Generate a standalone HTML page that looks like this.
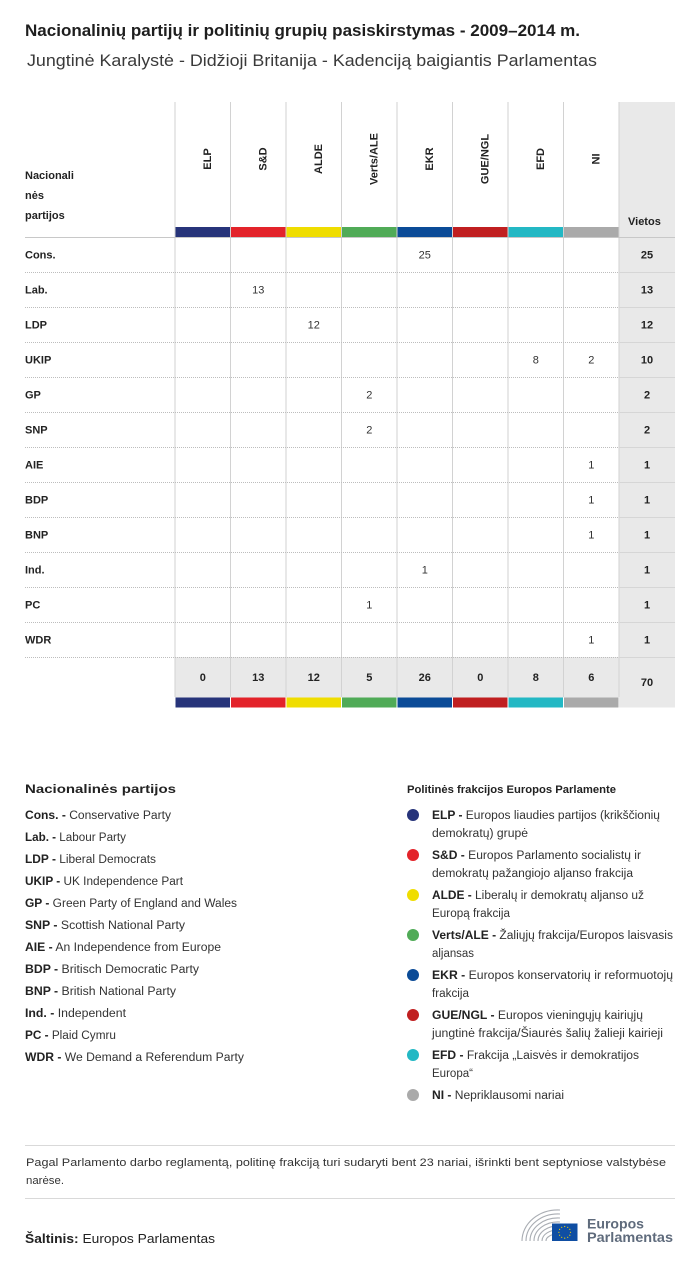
<!DOCTYPE html>
<html><head><meta charset="utf-8"><style>
html,body{margin:0;padding:0;background:#fff;}
svg{display:block;}
text{font-family:"Liberation Sans","DejaVu Sans",sans-serif;}
.b{font-weight:bold;}
.lbl{font-size:11px;font-weight:bold;fill:#222;}
.num{font-size:11px;fill:#333;text-anchor:middle;}
.tot{font-size:11px;font-weight:bold;fill:#222;text-anchor:middle;}
.hd{font-size:11px;font-weight:bold;fill:#222;text-anchor:middle;}
.lg{font-size:11.5px;fill:#333;}
.lg tspan.b{fill:#222;}
</style></head><body>
<svg width="700" height="1263" viewBox="0 0 700 1263" xmlns="http://www.w3.org/2000/svg">
<rect width="700" height="1263" fill="#fff"/>
<text x="25" y="36" font-size="17" font-weight="bold" fill="#1e1e1e" textLength="555" lengthAdjust="spacingAndGlyphs">Nacionalinių partijų ir politinių grupių pasiskirstymas - 2009–2014 m.</text>
<text x="27" y="66" font-size="17" fill="#3a3a3a" textLength="570" lengthAdjust="spacingAndGlyphs">Jungtinė Karalystė - Didžioji Britanija - Kadenciją baigiantis Parlamentas</text>

<!-- gray backgrounds -->
<rect x="619" y="102" width="56" height="605.5" fill="#e9e9e9"/>
<rect x="175" y="657" width="444" height="40.5" fill="#e9e9e9"/>

<!-- color bars -->
<g>
<rect x="175.5" y="227" width="54.5" height="10" fill="#27347a"/>
<rect x="231" y="227" width="54.5" height="10" fill="#e3232a"/>
<rect x="286.5" y="227" width="54.5" height="10" fill="#efdd00"/>
<rect x="342" y="227" width="54.5" height="10" fill="#50ab57"/>
<rect x="397.5" y="227" width="54.5" height="10" fill="#0b4b97"/>
<rect x="453" y="227" width="54.5" height="10" fill="#c01f20"/>
<rect x="508.5" y="227" width="54.5" height="10" fill="#23b8c4"/>
<rect x="564" y="227" width="54.5" height="10" fill="#aaaaaa"/>
<rect x="175.5" y="697.5" width="54.5" height="10" fill="#27347a"/>
<rect x="231" y="697.5" width="54.5" height="10" fill="#e3232a"/>
<rect x="286.5" y="697.5" width="54.5" height="10" fill="#efdd00"/>
<rect x="342" y="697.5" width="54.5" height="10" fill="#50ab57"/>
<rect x="397.5" y="697.5" width="54.5" height="10" fill="#0b4b97"/>
<rect x="453" y="697.5" width="54.5" height="10" fill="#c01f20"/>
<rect x="508.5" y="697.5" width="54.5" height="10" fill="#23b8c4"/>
<rect x="564" y="697.5" width="54.5" height="10" fill="#aaaaaa"/>
</g>

<!-- vertical column lines -->
<g stroke="#d2d2d2" stroke-width="1">
<line x1="175" y1="102" x2="175" y2="697"/>
<line x1="230.5" y1="102" x2="230.5" y2="697"/>
<line x1="286" y1="102" x2="286" y2="697"/>
<line x1="341.5" y1="102" x2="341.5" y2="697"/>
<line x1="397" y1="102" x2="397" y2="697"/>
<line x1="452.5" y1="102" x2="452.5" y2="697"/>
<line x1="508" y1="102" x2="508" y2="697"/>
<line x1="563.5" y1="102" x2="563.5" y2="697"/>
<line x1="619" y1="102" x2="619" y2="697"/>
</g>

<!-- horizontal lines -->
<line x1="25" y1="237.5" x2="675" y2="237.5" stroke="#c8c8c8" stroke-width="1"/>
<g stroke="#bdbdbd" stroke-width="1" stroke-dasharray="1,1">
<line x1="25" y1="272.5" x2="619" y2="272.5"/>
<line x1="25" y1="307.5" x2="619" y2="307.5"/>
<line x1="25" y1="342.5" x2="619" y2="342.5"/>
<line x1="25" y1="377.5" x2="619" y2="377.5"/>
<line x1="25" y1="412.5" x2="619" y2="412.5"/>
<line x1="25" y1="447.5" x2="619" y2="447.5"/>
<line x1="25" y1="482.5" x2="619" y2="482.5"/>
<line x1="25" y1="517.5" x2="619" y2="517.5"/>
<line x1="25" y1="552.5" x2="619" y2="552.5"/>
<line x1="25" y1="587.5" x2="619" y2="587.5"/>
<line x1="25" y1="622.5" x2="619" y2="622.5"/>
<line x1="25" y1="657.5" x2="619" y2="657.5"/>
</g>
<g stroke="#d6d6d6" stroke-width="1">
<line x1="619" y1="272.5" x2="675" y2="272.5"/>
<line x1="619" y1="307.5" x2="675" y2="307.5"/>
<line x1="619" y1="342.5" x2="675" y2="342.5"/>
<line x1="619" y1="377.5" x2="675" y2="377.5"/>
<line x1="619" y1="412.5" x2="675" y2="412.5"/>
<line x1="619" y1="447.5" x2="675" y2="447.5"/>
<line x1="619" y1="482.5" x2="675" y2="482.5"/>
<line x1="619" y1="517.5" x2="675" y2="517.5"/>
<line x1="619" y1="552.5" x2="675" y2="552.5"/>
<line x1="619" y1="587.5" x2="675" y2="587.5"/>
<line x1="619" y1="622.5" x2="675" y2="622.5"/>
<line x1="619" y1="657.5" x2="675" y2="657.5"/>
</g>

<!-- header labels -->
<text class="lbl" x="25" y="179">Nacionali</text>
<text class="lbl" x="25" y="199">nės</text>
<text class="lbl" x="25" y="219">partijos</text>
<text class="lbl" x="628" y="225">Vietos</text>

<g class="hd">
<text class="hd" transform="translate(210.75,159) rotate(-90)">ELP</text>
<text class="hd" transform="translate(266.25,159) rotate(-90)">S&amp;D</text>
<text class="hd" transform="translate(321.75,159) rotate(-90)">ALDE</text>
<text class="hd" transform="translate(377.25,159) rotate(-90)">Verts/ALE</text>
<text class="hd" transform="translate(432.75,159) rotate(-90)">EKR</text>
<text class="hd" transform="translate(488.25,159) rotate(-90)">GUE/NGL</text>
<text class="hd" transform="translate(543.75,159) rotate(-90)">EFD</text>
<text class="hd" transform="translate(599.25,159) rotate(-90)">NI</text>
</g>

<!-- row labels -->
<text class="lbl" x="25" y="258.5">Cons.</text>
<text class="lbl" x="25" y="293.5">Lab.</text>
<text class="lbl" x="25" y="328.5">LDP</text>
<text class="lbl" x="25" y="363.5">UKIP</text>
<text class="lbl" x="25" y="398.5">GP</text>
<text class="lbl" x="25" y="433.5">SNP</text>
<text class="lbl" x="25" y="468.5">AIE</text>
<text class="lbl" x="25" y="503.5">BDP</text>
<text class="lbl" x="25" y="538.5">BNP</text>
<text class="lbl" x="25" y="573.5">Ind.</text>
<text class="lbl" x="25" y="608.5">PC</text>
<text class="lbl" x="25" y="643.5">WDR</text>

<!-- cell values -->
<text class="num" x="424.75" y="258.5">25</text>
<text class="num" x="258.25" y="293.5">13</text>
<text class="num" x="313.75" y="328.5">12</text>
<text class="num" x="535.75" y="363.5">8</text>
<text class="num" x="591.25" y="363.5">2</text>
<text class="num" x="369.25" y="398.5">2</text>
<text class="num" x="369.25" y="433.5">2</text>
<text class="num" x="591.25" y="468.5">1</text>
<text class="num" x="591.25" y="503.5">1</text>
<text class="num" x="591.25" y="538.5">1</text>
<text class="num" x="424.75" y="573.5">1</text>
<text class="num" x="369.25" y="608.5">1</text>
<text class="num" x="591.25" y="643.5">1</text>

<!-- row totals -->
<text class="tot" x="647" y="258.5">25</text>
<text class="tot" x="647" y="293.5">13</text>
<text class="tot" x="647" y="328.5">12</text>
<text class="tot" x="647" y="363.5">10</text>
<text class="tot" x="647" y="398.5">2</text>
<text class="tot" x="647" y="433.5">2</text>
<text class="tot" x="647" y="468.5">1</text>
<text class="tot" x="647" y="503.5">1</text>
<text class="tot" x="647" y="538.5">1</text>
<text class="tot" x="647" y="573.5">1</text>
<text class="tot" x="647" y="608.5">1</text>
<text class="tot" x="647" y="643.5">1</text>

<!-- column totals -->
<text class="tot" x="202.75" y="681">0</text>
<text class="tot" x="258.25" y="681">13</text>
<text class="tot" x="313.75" y="681">12</text>
<text class="tot" x="369.25" y="681">5</text>
<text class="tot" x="424.75" y="681">26</text>
<text class="tot" x="480.25" y="681">0</text>
<text class="tot" x="535.75" y="681">8</text>
<text class="tot" x="591.25" y="681">6</text>
<text class="tot" x="647" y="686">70</text>

<!-- left legend -->
<text x="25" y="793" font-family="Liberation Mono, DejaVu Sans Mono, monospace" font-size="12" font-weight="bold" fill="#222" textLength="151" lengthAdjust="spacingAndGlyphs">Nacionalinės partijos</text>
<g class="lg">
<text class="lg" x="25" y="819" textLength="146" lengthAdjust="spacingAndGlyphs"><tspan class="b">Cons. -</tspan> Conservative Party</text>
<text class="lg" x="25" y="841" textLength="101" lengthAdjust="spacingAndGlyphs"><tspan class="b">Lab. -</tspan> Labour Party</text>
<text class="lg" x="25" y="863" textLength="131" lengthAdjust="spacingAndGlyphs"><tspan class="b">LDP -</tspan> Liberal Democrats</text>
<text class="lg" x="25" y="885" textLength="158" lengthAdjust="spacingAndGlyphs"><tspan class="b">UKIP -</tspan> UK Independence Part</text>
<text class="lg" x="25" y="907" textLength="212" lengthAdjust="spacingAndGlyphs"><tspan class="b">GP -</tspan> Green Party of England and Wales</text>
<text class="lg" x="25" y="929" textLength="160" lengthAdjust="spacingAndGlyphs"><tspan class="b">SNP -</tspan> Scottish National Party</text>
<text class="lg" x="25" y="951" textLength="196" lengthAdjust="spacingAndGlyphs"><tspan class="b">AIE -</tspan> An Independence from Europe</text>
<text class="lg" x="25" y="973" textLength="174" lengthAdjust="spacingAndGlyphs"><tspan class="b">BDP -</tspan> Britisch Democratic Party</text>
<text class="lg" x="25" y="995" textLength="151" lengthAdjust="spacingAndGlyphs"><tspan class="b">BNP -</tspan> British National Party</text>
<text class="lg" x="25" y="1017" textLength="101" lengthAdjust="spacingAndGlyphs"><tspan class="b">Ind. -</tspan> Independent</text>
<text class="lg" x="25" y="1039" textLength="91" lengthAdjust="spacingAndGlyphs"><tspan class="b">PC -</tspan> Plaid Cymru</text>
<text class="lg" x="25" y="1061" textLength="219" lengthAdjust="spacingAndGlyphs"><tspan class="b">WDR -</tspan> We Demand a Referendum Party</text>
</g>

<!-- right legend -->
<text x="407" y="793" font-size="11" font-weight="bold" fill="#222" textLength="209" lengthAdjust="spacingAndGlyphs">Politinės frakcijos Europos Parlamente</text>
<circle cx="413" cy="815" r="6" fill="#27347a"/>
<circle cx="413" cy="855" r="6" fill="#e3232a"/>
<circle cx="413" cy="895" r="6" fill="#efdd00"/>
<circle cx="413" cy="935" r="6" fill="#50ab57"/>
<circle cx="413" cy="975" r="6" fill="#0b4b97"/>
<circle cx="413" cy="1015" r="6" fill="#c01f20"/>
<circle cx="413" cy="1055" r="6" fill="#23b8c4"/>
<circle cx="413" cy="1095" r="6" fill="#aaaaaa"/>
<g class="lg">
<text class="lg" x="432" y="819" textLength="228" lengthAdjust="spacingAndGlyphs"><tspan class="b">ELP -</tspan> Europos liaudies partijos (krikščionių</text>
<text class="lg" x="432" y="837" textLength="96" lengthAdjust="spacingAndGlyphs">demokratų) grupė</text>
<text class="lg" x="432" y="859" textLength="209" lengthAdjust="spacingAndGlyphs"><tspan class="b">S&amp;D -</tspan> Europos Parlamento socialistų ir</text>
<text class="lg" x="432" y="877" textLength="201" lengthAdjust="spacingAndGlyphs">demokratų pažangiojo aljanso frakcija</text>
<text class="lg" x="432" y="899" textLength="212" lengthAdjust="spacingAndGlyphs"><tspan class="b">ALDE -</tspan> Liberalų ir demokratų aljanso už</text>
<text class="lg" x="432" y="917" textLength="78" lengthAdjust="spacingAndGlyphs">Europą frakcija</text>
<text class="lg" x="432" y="939" textLength="241" lengthAdjust="spacingAndGlyphs"><tspan class="b">Verts/ALE -</tspan> Žaliųjų frakcija/Europos laisvasis</text>
<text class="lg" x="432" y="957" textLength="42" lengthAdjust="spacingAndGlyphs">aljansas</text>
<text class="lg" x="432" y="979" textLength="241" lengthAdjust="spacingAndGlyphs"><tspan class="b">EKR -</tspan> Europos konservatorių ir reformuotojų</text>
<text class="lg" x="432" y="997" textLength="37" lengthAdjust="spacingAndGlyphs">frakcija</text>
<text class="lg" x="432" y="1019" textLength="211" lengthAdjust="spacingAndGlyphs"><tspan class="b">GUE/NGL -</tspan> Europos vieningųjų kairiųjų</text>
<text class="lg" x="432" y="1037" textLength="231" lengthAdjust="spacingAndGlyphs">jungtinė frakcija/Šiaurės šalių žalieji kairieji</text>
<text class="lg" x="432" y="1059" textLength="207" lengthAdjust="spacingAndGlyphs"><tspan class="b">EFD -</tspan> Frakcija „Laisvės ir demokratijos</text>
<text class="lg" x="432" y="1077" textLength="41" lengthAdjust="spacingAndGlyphs">Europa“</text>
<text class="lg" x="432" y="1099" textLength="132" lengthAdjust="spacingAndGlyphs"><tspan class="b">NI -</tspan> Nepriklausomi nariai</text>
</g>

<!-- footer -->
<line x1="25" y1="1145.5" x2="675" y2="1145.5" stroke="#d9d9d9" stroke-width="1"/>
<text x="26" y="1166" font-size="11" fill="#333" textLength="640" lengthAdjust="spacingAndGlyphs">Pagal Parlamento darbo reglamentą, politinę frakciją turi sudaryti bent 23 nariai, išrinkti bent septyniose valstybėse</text>
<text x="26" y="1184" font-size="11" fill="#333" textLength="38" lengthAdjust="spacingAndGlyphs">narėse.</text>
<line x1="25" y1="1198.5" x2="675" y2="1198.5" stroke="#d9d9d9" stroke-width="1"/>
<text x="25" y="1243" font-size="13" fill="#222" textLength="190" lengthAdjust="spacingAndGlyphs"><tspan font-weight="bold">Šaltinis:</tspan> Europos Parlamentas</text>

<!-- logo -->
<g fill="none" stroke="#a9adb3" stroke-width="1.1">
<path d="M522 1241 A36 31 0 0 1 560 1210"/>
<path d="M526 1241 A32 27 0 0 1 560 1214"/>
<path d="M530 1241 A28 23 0 0 1 560 1218"/>
<path d="M534 1241 A24 19 0 0 1 560 1222"/>
<path d="M538 1241 A20 15 0 0 1 560 1226"/>
<path d="M542 1241 A16 11 0 0 1 560 1230"/>
<path d="M546 1241 A12 7 0 0 1 560 1234"/>
</g>
<rect x="552" y="1223.5" width="25.5" height="17.5" fill="#0f4ea3"/>
<g fill="#f4d500">
<circle cx="564.7" cy="1226.5" r="0.6"/><circle cx="567.7" cy="1227.3" r="0.6"/><circle cx="569.8" cy="1229.4" r="0.6"/><circle cx="570.5" cy="1232.3" r="0.6"/><circle cx="569.8" cy="1235.2" r="0.6"/><circle cx="567.7" cy="1237.3" r="0.6"/><circle cx="564.7" cy="1238.1" r="0.6"/><circle cx="561.7" cy="1237.3" r="0.6"/><circle cx="559.6" cy="1235.2" r="0.6"/><circle cx="558.9" cy="1232.3" r="0.6"/><circle cx="559.6" cy="1229.4" r="0.6"/><circle cx="561.7" cy="1227.3" r="0.6"/>
</g>
<text x="587" y="1228.5" font-size="14" font-weight="bold" fill="#5f6b7c" textLength="57" lengthAdjust="spacingAndGlyphs">Europos</text>
<text x="587" y="1242" font-size="14" font-weight="bold" fill="#5f6b7c" textLength="86" lengthAdjust="spacingAndGlyphs">Parlamentas</text>
</svg>
</body></html>
